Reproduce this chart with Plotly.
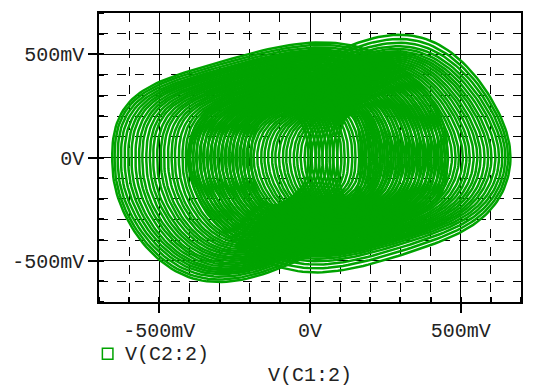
import numpy as np
import plotly.graph_objects as go

# Phase portrait V(C2:2) versus V(C1:2), values in mV.
# The trajectory winds around two centres; each family lists the loops
# around one centre (half-width along V(C1), half-height along V(C2)).
LEFT_CENTER_MV = -100
left_half_width_mv = [95, 106, 119, 131, 142, 155, 167, 178, 191, 204, 215, 227, 240, 251,
                      263, 276, 287, 299, 312, 323, 335, 348, 359, 371, 384, 395, 407, 420,
                      431, 443, 456, 467, 479, 492, 503, 515, 527, 538, 548, 556]
left_half_height_mv = [225, 232, 240, 248, 255, 263, 271, 278, 286, 294, 301, 309, 317, 324,
                       332, 340, 347, 355, 363, 370, 378, 386, 393, 401, 409, 416, 424, 432,
                       439, 447, 455, 462, 470, 478, 485, 493, 501, 512, 524, 536]

RIGHT_CENTER_MV = 130
right_half_width_mv = [40, 53, 65, 76, 89, 101, 112, 125, 137, 148, 161, 173, 184, 197, 209,
                       220, 233, 245, 256, 269, 281, 292, 305, 317, 328, 341, 353, 364, 377,
                       389, 400, 413, 425, 436, 449, 461, 472, 485, 497, 508, 518, 527, 535]
right_half_height_mv = [205, 212, 219, 226, 233, 240, 247, 254, 261, 268, 275, 282, 289, 296,
                        303, 310, 317, 324, 331, 338, 345, 352, 359, 366, 373, 380, 387, 394,
                        401, 408, 415, 422, 429, 436, 443, 450, 457, 464, 474, 486, 502, 520,
                        540]

# vertical lean of each loop, as a fraction of its half-width
# (the outer corner of a family leans more than the inner one)
LEAN_OUTER, LEAN_OUTER_EXP = 0.57, 3
LEAN_INNER, LEAN_INNER_EXP = 0.28, 4
LEFT_SIDE_EXP = 0.8     # squarer left flank
RIGHT_SIDE_EXP = 1.0

x_ticks_mv = [-500, 0, 500]
x_tick_text = ["-500mV", "0V", "500mV"]
y_ticks_mv = [-500, 0, 500]
y_tick_text = ["-500mV", "0V", "500mV"]

TRACE_COLOR = "#00A300"
TEXT_COLOR = "#222222"
FONT = "Liberation Mono, Courier New, monospace"
FONT_SIZE = 20


def loop_points(center, half_w, half_h, outer_is_upper, side_exp, n=200):
    t = np.linspace(0, 2 * np.pi, n)
    u = np.cos(t)
    v = np.sign(np.sin(t)) * np.abs(np.sin(t)) ** side_exp
    outer = (v > 0) == outer_is_upper
    lean = np.where(outer,
                    LEAN_OUTER * np.abs(v) ** LEAN_OUTER_EXP,
                    LEAN_INNER * np.abs(v) ** LEAN_INNER_EXP) * half_w
    x = center + half_w * u
    y = half_h * v + lean * u
    return x, y


xs, ys = [], []
for c, widths, heights, outer_upper, side_exp in (
        (LEFT_CENTER_MV, left_half_width_mv, left_half_height_mv, False, LEFT_SIDE_EXP),
        (RIGHT_CENTER_MV, right_half_width_mv, right_half_height_mv, True, RIGHT_SIDE_EXP)):
    for w, h in zip(widths, heights):
        x, y = loop_points(c, w, h, outer_upper, side_exp)
        xs.extend(x.tolist() + [None])
        ys.extend(y.tolist() + [None])

fig = go.Figure()
fig.add_trace(go.Scatter(x=xs, y=ys, mode="lines",
                         line=dict(color=TRACE_COLOR, width=2.5),
                         name="V(C2:2)", showlegend=False, hoverinfo="skip"))

axis_common = dict(
    range=[-700, 700],
    showline=True, linecolor="black", linewidth=1.5, mirror=True,
    showgrid=True, gridcolor="black", gridwidth=1,
    ticks="outside", ticklen=9, tickcolor="black", tickwidth=1.5,
    zeroline=False,
    tickfont=dict(family=FONT, size=FONT_SIZE, color=TEXT_COLOR),
    minor=dict(dtick=100, showgrid=True, gridcolor="black", gridwidth=1,
               griddash="dash", ticks="inside", ticklen=5, tickcolor="black"),
)

fig.update_layout(
    width=536, height=387,
    margin=dict(l=99, r=15, t=11, b=85),
    paper_bgcolor="white", plot_bgcolor="white",
    showlegend=False,
    xaxis=dict(axis_common, tickvals=x_ticks_mv, ticktext=x_tick_text),
    yaxis=dict(axis_common, tickvals=y_ticks_mv, ticktext=y_tick_text),
)

# legend entry: green square outline with the trace name
fig.add_shape(type="rect", xref="paper", yref="paper",
              x0=0.008, x1=0.033, y0=-0.160, y1=-0.198,
              line=dict(color=TRACE_COLOR, width=1.5), fillcolor="white")
fig.add_annotation(text="V(C2:2)", xref="paper", yref="paper", x=0.057, y=-0.181,
                   xanchor="left", yanchor="middle", showarrow=False,
                   font=dict(family=FONT, size=FONT_SIZE, color=TEXT_COLOR))
# x-axis title
fig.add_annotation(text="V(C1:2)", xref="paper", yref="paper", x=0.5, y=-0.255,
                   xanchor="center", yanchor="middle", showarrow=False,
                   font=dict(family=FONT, size=FONT_SIZE, color=TEXT_COLOR))

fig.write_html("out.html")
